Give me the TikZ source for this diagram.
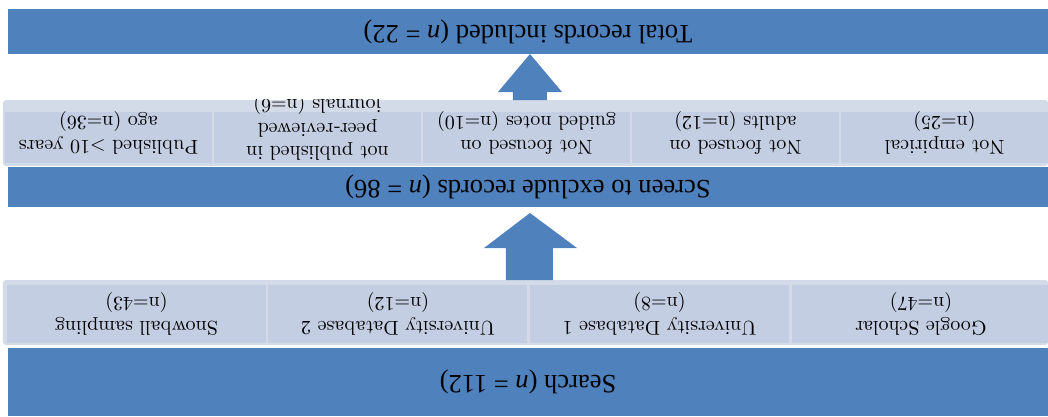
\documentclass[tikz,border=0pt]{standalone}
\usepackage{fontspec}
\newfontfamily\barfont{Liberation Serif}
\newfontfamily\cellfont{lmroman10-regular}[Extension=.otf]
\usetikzlibrary{positioning}
\definecolor{barblue}{HTML}{4F81BD}
\definecolor{rowpale}{HTML}{D3DAE8}
\definecolor{cellblue}{HTML}{C3CEE2}

\begin{document}
\begin{tikzpicture}
[x=1pt, y=1pt, rotate=180, transform shape,
bar/.style={rectangle, fill=barblue, inner sep=0pt, minimum width=1040pt, font=\barfont\fontsize{26.5}{30}\selectfont},
row/.style={rectangle, rounded corners=3pt, fill=rowpale, inner sep=0pt, minimum width=1045pt},
cell/.style={rectangle, fill=cellblue, inner sep=0pt},
celltext/.style={inner sep=0pt, align=center, font=\cellfont\fontsize{20}{23.5}\selectfont}]

\useasboundingbox (0,0) rectangle (1048,416);

% search stage
\node[bar, minimum height=68pt] (search) at (520,382) {Search (\textit{n} = 112)};
\node[row, minimum height=65pt] (row1) at (522.5,312.5) {};
\node[cell, minimum width=259pt, minimum height=58pt, celltext] (c11) at (127,314) {Google Scholar\\(n=47)};
\node[cell, minimum width=259pt, minimum height=58pt, celltext] (c12) at (388.5,314) {University Database 1\\(n=8)};
\node[cell, minimum width=259pt, minimum height=58pt, celltext] (c13) at (650,314) {University Database 2\\(n=12)};
\node[cell, minimum width=259pt, minimum height=58pt, celltext] (c14) at (911.5,314) {Snowball sampling\\(n=43)};

\fill[barblue] (495,280) -- (495,248) -- (471,248) -- (518,213) -- (564,248) -- (542,248) -- (542,280) -- cycle;

% screening stage
\node[bar, minimum height=40pt] (screen) at (520,187) {Screen to exclude records (\textit{n} = 86)};
\node[row, minimum height=66pt] (row2) at (522.5,133) {};
\node[cell, minimum width=207pt, minimum height=51pt] (c21) at (103.5,137.5) {};
\node[cell, minimum width=207pt, minimum height=51pt] (c22) at (312.5,137.5) {};
\node[cell, minimum width=207pt, minimum height=51pt] (c23) at (521.5,137.5) {};
\node[cell, minimum width=207pt, minimum height=51pt] (c24) at (730.5,137.5) {};
\node[cell, minimum width=207pt, minimum height=51pt] (c25) at (939.5,137.5) {};

\begin{scope}
\clip (row2.south west) rectangle (row2.north east);
\node[celltext] (t21) at (103.5,133) {Not empirical\\(n=25)};
\node[celltext] (t22) at (312.5,133) {Not focused on\\adults (n=12)};
\node[celltext] (t23) at (521.5,133) {Not focused on\\guided notes (n=10)};
\node[celltext] (t24) at (730.5,127.5) {not published in\\peer-reviewed\\journals (n=6)};
\node[celltext] (t25) at (939.5,133) {Published >10 years\\ago (n=36)};
\end{scope}

\fill[barblue] (501,100) -- (501,92) -- (486,92) -- (518,54) -- (550,92) -- (535,92) -- (535,100) -- cycle;

% result
\node[bar, minimum height=45pt] (total) at (520,31.5) {Total records included (\textit{n} = 22)};
\end{tikzpicture}
\end{document}
